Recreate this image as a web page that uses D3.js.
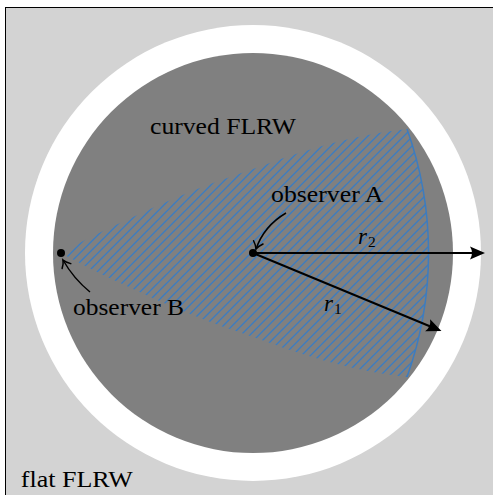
<!DOCTYPE html>
<html>
<head>
<meta charset="utf-8">
<script src="https://cdn.jsdelivr.net/npm/d3@7"></script>
<style>
  html, body { margin: 0; padding: 0; background: #ffffff; }
  svg { display: block; }
  text { font-family: "Liberation Serif", "DejaVu Serif", serif; fill: #000; }
</style>
</head>
<body>
<div id="chart"></div>
<script>
// ---- data (unit coordinates: curved-FLRW disk radius = 1, observer A at origin, y up) ----
const diskRadius = 1.0;
const ringRadius = 1.14;
const observerNames = ["observer A", "observer B"];
const observerX = [0, -0.96];
const observerY = [0, 0];
// upper boundary of the hatched (light-cone) region, mirrored for the lower one
const edgeX = [-0.96, -0.8, -0.6, -0.4, -0.2, 0.0, 0.2, 0.4, 0.6, 0.77];
const edgeY = [0.0, 0.085, 0.18, 0.27, 0.35, 0.42, 0.49, 0.55, 0.595, 0.62];
// radius arrows from observer A
const arrowNames = ["r1", "r2"];
const arrowAngles = [-22.5, 0];      // degrees
const arrowLengths = [1.02, 1.16];
const arrowLabelX = [0.355, 0.525];
const arrowLabelY = [-0.29, 0.045];
const arrowSubs = ["1", "2"];
// region labels
const labelTexts = ["curved FLRW", "observer A", "observer B", "flat FLRW"];
const labelX = [-0.515, 0.09, -0.9, -1.161];
const labelY = [0.595, 0.255, -0.31, -1.172];
const labelWidths = [0.73, 0.562, 0.555, 0.56];
// pointer arrows (start, control, end) for the observer labels
const pointerStartX = [0.165, -0.815], pointerStartY = [0.2, -0.195];
const pointerCtrlX = [0.055, -0.8975], pointerCtrlY = [0.135, -0.1275];
const pointerEndX = [0.015, -0.95], pointerEndY = [0.02, -0.035];

// ---- drawing ----
const W = 493, H = 495;
const x = d3.scaleLinear().domain([-1, 1]).range([53, 453]);
const y = d3.scaleLinear().domain([-1, 1]).range([453, 53]);
const rs = d3.scaleLinear().domain([0, 1]).range([0, 200]);

const svg = d3.select("#chart").append("svg")
  .attr("width", W).attr("height", H)
  .attr("viewBox", `0 0 ${W} ${H}`);

const defs = svg.append("defs");
const pat = defs.append("pattern")
  .attr("id", "hatch").attr("patternUnits", "userSpaceOnUse")
  .attr("width", 9).attr("height", 9);
pat.append("path")
  .attr("d", "M-2,2 L2,-2 M0,9 L9,0 M7,11 L11,7")
  .attr("stroke", "#3c7cc0").attr("stroke-width", 1.4).attr("fill", "none");

// flat FLRW background box
svg.append("rect")
  .attr("x", 5.5).attr("y", 7.5).attr("width", 520).attr("height", 520)
  .attr("fill", "#d3d3d3").attr("stroke", "#000").attr("stroke-width", 1);

// white ring and curved disk
svg.append("circle").attr("cx", x(0)).attr("cy", y(0)).attr("r", rs(ringRadius)).attr("fill", "#ffffff");
svg.append("circle").attr("cx", x(0)).attr("cy", y(0)).attr("r", rs(diskRadius)).attr("fill", "#808080");

// hatched region
const upperPts = edgeX.map((d, i) => [x(d), y(edgeY[i])]);
const lowerPts = edgeX.map((d, i) => [x(d), y(-edgeY[i])]).reverse();
const edgeLine = d3.line().curve(d3.curveCatmullRom.alpha(0.5));
const bx = x(observerX[1]), by = y(observerY[1]);
const topEnd = upperPts[upperPts.length - 1], botEnd = lowerPts[0];
const arcR = Math.hypot(topEnd[0] - bx, topEnd[1] - by);
const arcStr = `A${arcR},${arcR} 0 0 1 ${botEnd[0]},${botEnd[1]}`;
const regionPath = edgeLine(upperPts) + arcStr + edgeLine(lowerPts).replace(/^M/, "L") + "Z";
svg.append("path").attr("d", regionPath).attr("fill", "url(#hatch)").attr("stroke", "none");
svg.append("path")
  .attr("d", `M${topEnd[0]},${topEnd[1]}` + arcStr)
  .attr("fill", "none").attr("stroke", "#3c7cc0").attr("stroke-width", 1.5);

// labels
labelTexts.forEach((t, i) => {
  svg.append("text")
    .attr("x", x(labelX[i])).attr("y", y(labelY[i]))
    .attr("font-size", 22.5)
    .attr("textLength", rs(labelWidths[i]))
    .attr("lengthAdjust", "spacingAndGlyphs")
    .text(t);
});

// radius arrows
const ax = x(observerX[0]), ay = y(observerY[0]);
arrowNames.forEach((n, i) => {
  const a = arrowAngles[i] * Math.PI / 180;
  const L = rs(arrowLengths[i]);
  const tx = ax + L * Math.cos(a), ty = ay - L * Math.sin(a);
  const ux = Math.cos(a), uy = -Math.sin(a);
  svg.append("line")
    .attr("x1", ax).attr("y1", ay)
    .attr("x2", tx - ux * 10).attr("y2", ty - uy * 10)
    .attr("stroke", "#000").attr("stroke-width", 2);
  svg.append("path")
    .attr("d", "M0,0 L-15,-6.5 Q-11,0 -15,6.5 Z")
    .attr("transform", `translate(${tx},${ty}) rotate(${-arrowAngles[i]})`)
    .attr("fill", "#000");
  const lt = svg.append("text")
    .attr("x", x(arrowLabelX[i])).attr("y", y(arrowLabelY[i]))
    .attr("font-size", 23).attr("font-style", "italic");
  lt.append("tspan").text("r");
  lt.append("tspan").attr("font-size", 15.5).attr("font-style", "normal")
    .attr("dy", 3).attr("dx", 1).text(arrowSubs[i]);
});

// pointer arrows
pointerStartX.forEach((d, i) => {
  const s = [x(d), y(pointerStartY[i])];
  const c = [x(pointerCtrlX[i]), y(pointerCtrlY[i])];
  const e = [x(pointerEndX[i]), y(pointerEndY[i])];
  svg.append("path")
    .attr("d", `M${s[0]},${s[1]} Q${c[0]},${c[1]} ${e[0]},${e[1]}`)
    .attr("fill", "none").attr("stroke", "#000").attr("stroke-width", 1.5);
  const ang = Math.atan2(e[1] - c[1], e[0] - c[0]) * 180 / Math.PI;
  svg.append("path")
    .attr("d", "M-7,-5 Q-3,-1 0,0 Q-3,1 -7,5")
    .attr("transform", `translate(${e[0]},${e[1]}) rotate(${ang})`)
    .attr("fill", "none").attr("stroke", "#000").attr("stroke-width", 1.5)
    .attr("stroke-linecap", "round");
});

// observer dots
observerNames.forEach((n, i) => {
  svg.append("circle")
    .attr("cx", x(observerX[i])).attr("cy", y(observerY[i]))
    .attr("r", 4).attr("fill", "#000");
});
</script>
</body>
</html>
